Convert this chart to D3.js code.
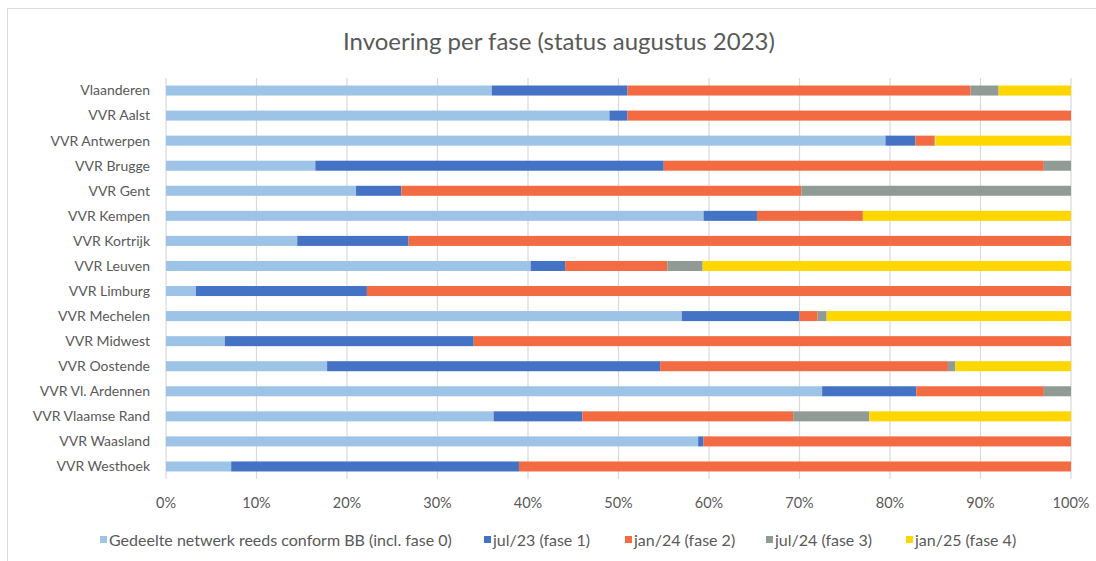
<!DOCTYPE html>
<html>
<head>
<meta charset="utf-8">
<script src="https://cdn.jsdelivr.net/npm/d3@7"></script>
<style>
  body { margin: 0; background: #fff; }
  text { font-family: Lato, "Open Sans", sans-serif; fill: #595959; }
</style>
</head>
<body>
<div id="chart-area"></div>
<script>
const regions = ["Vlaanderen", "VVR Aalst", "VVR Antwerpen", "VVR Brugge", "VVR Gent",
  "VVR Kempen", "VVR Kortrijk", "VVR Leuven", "VVR Limburg", "VVR Mechelen",
  "VVR Midwest", "VVR Oostende", "VVR Vl. Ardennen", "VVR Vlaamse Rand",
  "VVR Waasland", "VVR Westhoek"];

const seriesNames = ["Gedeelte netwerk reeds conform BB (incl. fase 0)", "jul/23 (fase 1)",
  "jan/24 (fase 2)", "jul/24 (fase 3)", "jan/25 (fase 4)"];

// percentages per region, in region order
const fase0 = [36.0, 49.0, 79.5, 16.5, 21.0, 59.4, 14.5, 40.3, 3.3, 57.0, 6.5, 17.8, 72.5, 36.2, 58.8, 7.2];
const fase1 = [15.0, 2.0, 3.3, 38.5, 5.0, 5.9, 12.3, 3.8, 18.9, 13.0, 27.5, 36.8, 10.4, 9.8, 0.6, 31.8];
const fase2 = [37.9, 49.0, 2.1, 42.0, 44.2, 11.7, 73.2, 11.3, 77.8, 2.0, 66.0, 31.8, 14.1, 23.3, 40.6, 61.0];
const fase3 = [3.1, 0, 0.1, 3.0, 29.8, 0, 0, 3.9, 0, 1.0, 0, 0.8, 3.0, 8.4, 0, 0];
const fase4 = [8.0, 0, 15.0, 0, 0, 23.0, 0, 40.7, 0, 27.0, 0, 12.8, 0, 22.3, 0, 0];

const xTicks = [0, 10, 20, 30, 40, 50, 60, 70, 80, 90, 100];
const colors = ["#9dc3e6", "#4472c4", "#f26b43", "#919b95", "#ffd700"];

const chart = { width: 1096, height: 561 };
const margin = { top: 78, right: 25, left: 166, bottom: 82 };
const width = chart.width - margin.left - margin.right;
const height = chart.height - margin.top - margin.bottom;

const table = regions.map((r, i) => ({
  Name: r, s0: fase0[i], s1: fase1[i], s2: fase2[i], s3: fase3[i], s4: fase4[i]
}));
const keys = ["s0", "s1", "s2", "s3", "s4"];
const stacked = d3.stack().keys(keys)(table);

const x = d3.scaleLinear().domain([0, 100]).range([0, width]);
const y = d3.scaleBand().domain(regions).range([0, height]).paddingInner(0.6).paddingOuter(0.3);
const c = d3.scaleOrdinal().domain(keys).range(colors);

const svg = d3.select("#chart-area").append("svg")
  .attr("width", chart.width).attr("height", chart.height);

svg.append("rect")
  .attr("x", 7.5).attr("y", 8.5)
  .attr("width", chart.width).attr("height", chart.height)
  .attr("fill", "none").attr("stroke", "#d9d9d9");

svg.append("text")
  .text("Invoering per fase (status augustus 2023)")
  .attr("x", 559).attr("y", 50)
  .attr("text-anchor", "middle")
  .style("font-size", "24px");

const g = svg.append("g").attr("transform", `translate(${margin.left}, ${margin.top})`);

// gridlines
g.selectAll(".grid").data(xTicks).enter().append("line")
  .attr("x1", d => x(d)).attr("x2", d => x(d))
  .attr("y1", 0).attr("y2", height)
  .attr("stroke", "#d9d9d9").attr("stroke-width", 1.2);

g.selectAll(".layer").data(stacked).enter().append("g")
  .attr("fill", d => c(d.key))
  .selectAll("rect").data(d => d).enter().append("rect")
  .attr("x", d => x(d[0]))
  .attr("y", d => y(d.data.Name))
  .attr("width", d => x(d[1]) - x(d[0]))
  .attr("height", y.bandwidth());

// category labels
g.selectAll(".cat").data(regions).enter().append("text")
  .text(d => d)
  .attr("x", -16)
  .attr("y", d => y(d) + y.bandwidth() / 2)
  .attr("dy", "0.35em")
  .attr("text-anchor", "end")
  .style("font-size", "14px");

// x tick labels
g.selectAll(".tick-label").data(xTicks).enter().append("text")
  .text(d => d + "%")
  .attr("x", d => x(d))
  .attr("y", height + 24)
  .attr("dy", "0.35em")
  .attr("text-anchor", "middle")
  .style("font-size", "14.5px");

// legend
const legendX = [100, 484, 625, 766, 906];
const legend = svg.append("g").selectAll("g").data(seriesNames).enter().append("g")
  .attr("transform", (d, i) => `translate(${legendX[i]}, 540)`);
legend.append("rect")
  .attr("x", 0).attr("y", -4).attr("width", 7).attr("height", 7)
  .attr("fill", (d, i) => colors[i]);
legend.append("text")
  .text(d => d)
  .attr("x", 9).attr("y", 0).attr("dy", "0.35em")
  .style("font-size", "16px");
</script>
</body>
</html>
